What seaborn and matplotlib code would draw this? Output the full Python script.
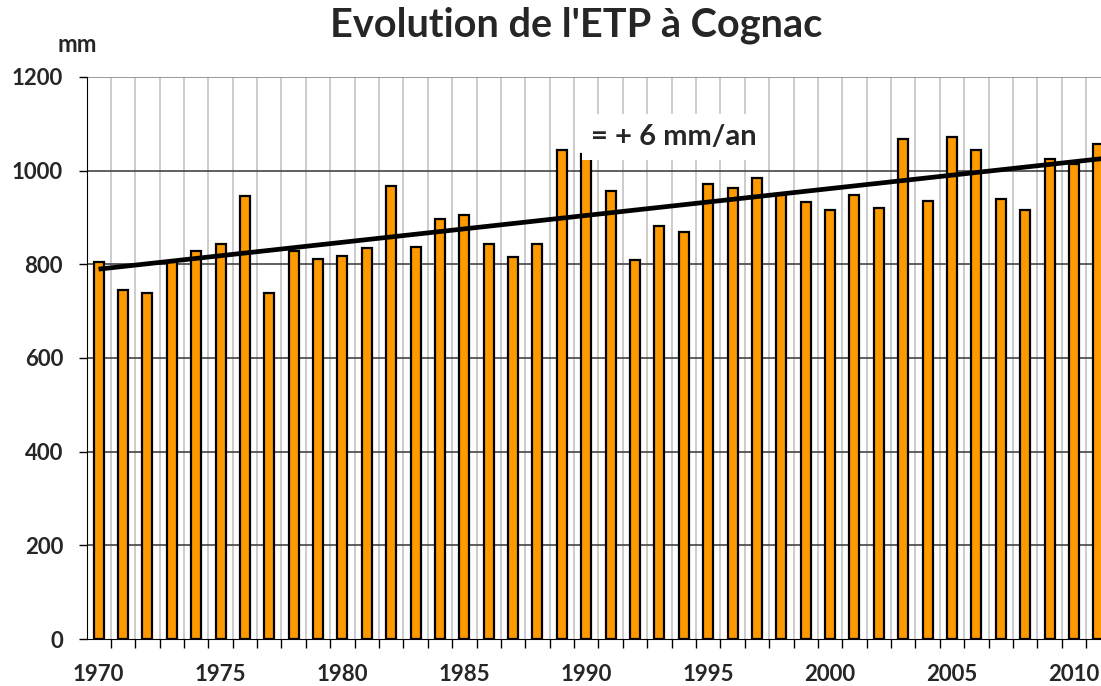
import numpy as np
import matplotlib
matplotlib.use("Agg")
import matplotlib.pyplot as plt
import seaborn as sns

# ETP annuelle a Cognac (mm)
years = list(range(1970, 2012))
etp = [806, 745, 739, 806, 828, 843, 945, 739, 828, 811,
       817, 834, 968, 838, 896, 906, 843, 815, 843, 1045,
       1035, 957, 809, 881, 868, 972, 962, 985, 950, 934,
       917, 947, 920, 1068, 936, 1072, 1045, 940, 915, 1025,
       1014, 1057]
year_labels = [str(y) if y % 5 == 0 else "" for y in years]
yticks = [0, 200, 400, 600, 800, 1000, 1200]

sns.set_style("white")
plt.rcParams['font.family'] = ['Lato', 'DejaVu Sans']

fig = plt.figure(figsize=(11.01, 6.86), dpi=100)
ax = fig.add_axes([0.0787, 0.0685, 0.9213, 0.8193])

pos = np.arange(len(years))
sns.barplot(x=pos, y=etp, color="#FF9900", width=0.41,
            edgecolor="black", linewidth=1.6, saturation=1, ax=ax, zorder=3)

# droite de tendance (moindres carres)
slope, inter = np.polyfit(pos, etp, 1)
xt = np.array([0, len(years)])
ax.plot(xt, inter + slope * xt, color="black", lw=3.4, zorder=4,
        solid_capstyle="butt")

# grilles
for k in range(len(years) + 1):
    ax.axvline(k - 0.5, color="#c4c4c4", lw=1.2, zorder=1)
for v in yticks[1:]:
    ax.axhline(v, color="#444444" if v < 1200 else "#888888", lw=1.2, zorder=1)

ax.set_yticks(yticks)
ax.set_yticklabels([str(v) for v in yticks], fontsize=16, fontweight="bold")
ax.set_xticks(pos)
ax.set_xticklabels(year_labels, fontsize=16, fontweight="bold")
ax.set_xticks(np.arange(len(years) + 1) - 0.5, minor=True)
ax.tick_params(axis="x", which="major", length=0, pad=18)
ax.tick_params(axis="x", which="minor", length=6.5, width=1, color="black", direction="out")
ax.tick_params(axis="y", length=6, width=1, color="black", direction="out", pad=11)
ax.tick_params(axis="both", bottom=True, left=True, which="both")

# limites apres set_xticks (sinon elles sont elargies)
ax.set_xlim(-0.49, len(years) - 1 + 0.11)
ax.set_ylim(0, 1200)

for s in ["top", "right"]:
    ax.spines[s].set_visible(False)
ax.spines["left"].set_color("black")
ax.spines["bottom"].set_color("black")
ax.set_xlabel("")

fig.text(77 / 1101, 1 - 44 / 686, "mm", ha="center", va="center",
         fontsize=17, fontweight="bold")
fig.text(576 / 1101, 1 - 25 / 686, "Evolution de l'ETP à Cognac", ha="center",
         va="center", fontsize=28.5, fontweight="bold")
ax.text(23.6, 1072, "= + 6 mm/an", ha="center", va="center", fontsize=21,
        fontweight="bold", zorder=5,
        bbox=dict(facecolor="white", edgecolor="none", pad=7))

fig.savefig("out.png", dpi=100)
